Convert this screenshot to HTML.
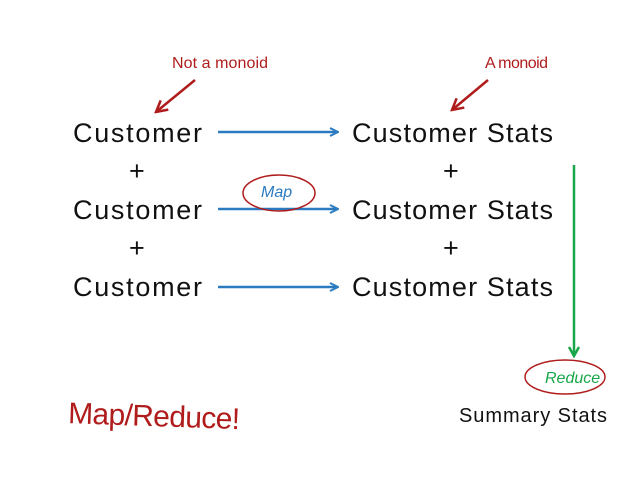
<!DOCTYPE html>
<html><head><style>body{margin:0;background:#fff}</style></head><body>
<svg width="638" height="479" xmlns="http://www.w3.org/2000/svg" font-family="Liberation Sans, sans-serif">
<defs>
<marker id="b" markerWidth="10" markerHeight="10" refX="9" refY="5" orient="auto" markerUnits="userSpaceOnUse"><path d="M1,1 L9,5 L1,9" fill="none" stroke="#2a7bc0" stroke-width="2"/></marker>
<marker id="g" markerWidth="12" markerHeight="12" refX="10" refY="6" orient="auto" markerUnits="userSpaceOnUse"><path d="M1,1 L10,6 L1,11" fill="none" stroke="#1aa64a" stroke-width="2.5"/></marker>
<marker id="r" markerWidth="14" markerHeight="14" refX="12" refY="7" orient="auto" markerUnits="userSpaceOnUse"><path d="M1,1 L12,7 L1,13" fill="none" stroke="#b01c1c" stroke-width="2.5"/></marker>
</defs>
<g font-size="27" fill="#111">
<text x="73" y="142" textLength="129">Customer</text>
<text x="73" y="219" textLength="129">Customer</text>
<text x="73" y="296" textLength="129">Customer</text>
<text x="129" y="180">+</text><text x="443" y="180">+</text>
<text x="129" y="257">+</text><text x="443" y="257">+</text>
<text x="352" y="142" textLength="201">Customer Stats</text>
<text x="352" y="219" textLength="201">Customer Stats</text>
<text x="352" y="296" textLength="201">Customer Stats</text>
</g>
<g stroke="#2a7bc0" stroke-width="2.5" marker-end="url(#b)">
<line x1="218" y1="132" x2="338" y2="132"/>
<line x1="218" y1="209" x2="338" y2="209"/>
<line x1="218" y1="287" x2="338" y2="287"/>
</g>
<line x1="574" y1="165" x2="574" y2="356" stroke="#1aa64a" stroke-width="2.5" marker-end="url(#g)"/>
<ellipse cx="279" cy="193" rx="36" ry="18" fill="none" stroke="#b01c1c" stroke-width="1.5"/>
<text x="261" y="197" font-size="16" font-style="italic" fill="#2a7bc0">Map</text>
<ellipse cx="565" cy="377" rx="40" ry="17" fill="none" stroke="#b01c1c" stroke-width="1.5"/>
<text x="545" y="383" font-size="16" font-style="italic" fill="#1aa64a">Reduce</text>
<text x="459" y="422" font-size="20" fill="#111" textLength="148">Summary Stats</text>
<text x="172" y="68" font-size="16" fill="#b01c1c" textLength="96">Not a monoid</text>
<text x="485" y="68" font-size="16" fill="#b01c1c" textLength="63">A monoid</text>
<line x1="195" y1="80" x2="156" y2="112" stroke="#b01c1c" stroke-width="2.5" marker-end="url(#r)"/>
<line x1="488" y1="80" x2="452" y2="110" stroke="#b01c1c" stroke-width="2.5" marker-end="url(#r)"/>
<text x="68" y="426" font-size="30" fill="#b01c1c" textLength="172" transform="rotate(2 150 420)">Map/Reduce!</text>
</svg>
</body></html>
